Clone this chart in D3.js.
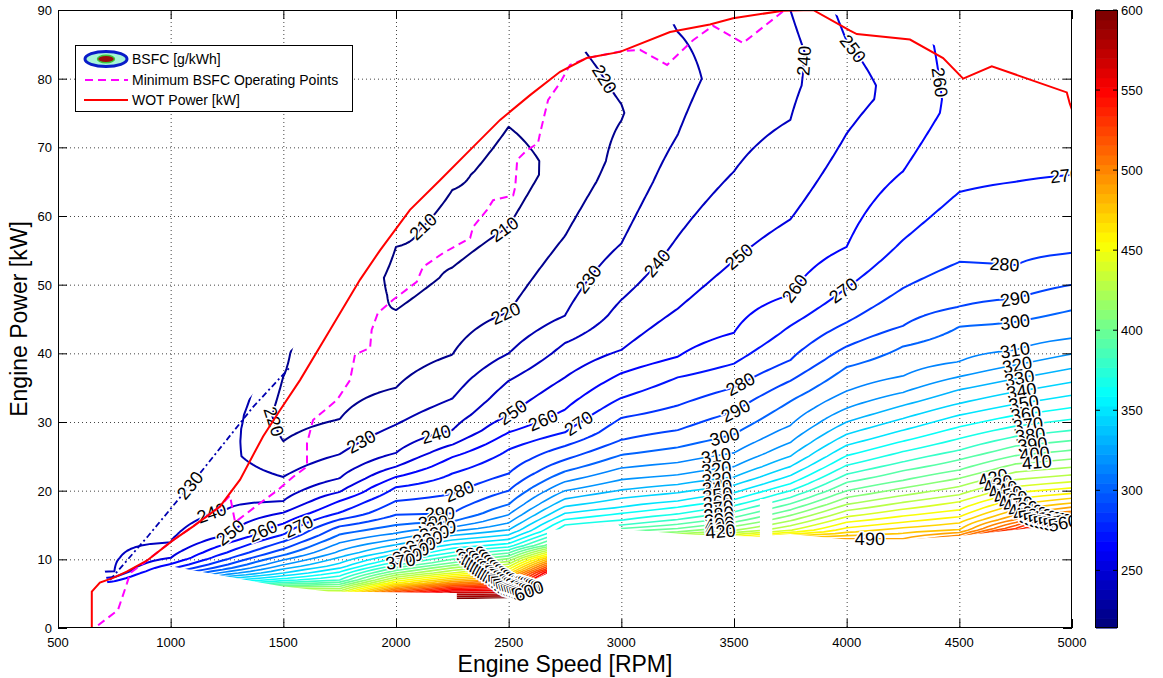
<!DOCTYPE html>
<html>
<head>
<meta charset="utf-8">
<script src="https://cdn.jsdelivr.net/npm/d3@7"></script>
<style>
body { margin: 0; background: #fff; }
svg { font-family: "Liberation Sans", Arial, sans-serif; }
</style>
</head>
<body>
<svg id="chart" width="1163" height="678"></svg>
<script>
// engine speed columns of the map [RPM]
var speeds = [500, 750, 1000, 1250, 1500, 1750, 2000, 2250, 2500, 2750, 3000, 3250, 3500, 3750, 4000, 4250, 4500, 4750, 5000];

// BSFC along each speed column, pairs of [power kW, bsfc g/kWh]
var bsfc500  = [[0,700],[3,520],[4,400],[5,320],[5.8,270],[6.5,250],[7.2,240],[10,238],[92,240]];
var bsfc750  = [[0,700],[3,450],[3.8,380],[4.3,340],[5,300],[5.6,280],[6.2,270],[6.8,260],[7.4,250],[8.2,240],[12,238],[92,240]];
var bsfc1000 = [[0,700],[3,480],[4.2,380],[4.6,360],[5.2,340],[5.8,320],[6.6,300],[7.2,290],[8,280],[8.6,270],[9.3,260],[10.2,250],[12.5,240],[16,236],[22,238],[92,240]];
var bsfc1250 = [[0,700],[4,520],[5.5,420],[6.1,380],[6.6,360],[7.2,340],[7.8,320],[8.6,300],[9.2,290],[10,280],[11,270],[12.3,260],[13.5,250],[17.3,240],[21,235],[25,232],[29,234],[35,240],[92,245]];
var bsfc1500 = [[0,650],[5.6,430],[6.2,400],[6.6,380],[7.2,360],[8,340],[9.2,320],[10.6,300],[11.5,290],[12.6,280],[13.6,270],[15.2,260],[16.8,250],[18.5,240],[22,230],[27.2,220],[31,216],[36.6,220],[40,221],[44,223],[50,228],[92,240]];
var bsfc1750 = [[0,700],[5.4,430],[7,380],[9,345],[11,322],[13,305],[14.5,293],[15.8,280],[16.8,270],[18.5,260],[19.8,250],[21.8,240],[25.3,230],[30.4,220],[38,214],[44,210.5],[46,211],[48.5,220],[55,232],[92,240]];
var bsfc2000 = [[0,750],[5.3,520],[6.5,460],[8,410],[9.5,372],[11,345],[12.5,325],[13.8,310],[15,300],[16.5,290],[18.5,280],[20.5,270],[22,260],[23.5,250],[25.5,240],[29.6,230],[35,220],[46.3,210],[51,206],[55.5,210],[59,214],[65,220],[92,230]];
var bsfc2250 = [[0,800],[4.3,600],[5.2,570],[6.5,500],[8,440],[9.5,400],[11,370],[12.5,345],[13.8,325],[14.7,310],[15.5,300],[16.7,290],[19.5,280],[22.5,270],[24.9,260],[26.7,250],[28.8,240],[33.4,230],[39.8,220],[52.5,210],[58,206],[63.8,210],[66.5,213],[75,220],[92,230]];
var bsfc2500 = [[0,800],[4.4,600],[5.5,560],[7,500],[8.5,450],[10.5,400],[12,365],[13.2,345],[14.3,330],[15.3,320],[16.5,310],[18,300],[20,290],[22.5,280],[26,270],[28.5,260],[31,250],[36,240],[40,230],[46,220],[58.5,210],[66,205],[73,210],[74.5,212],[80,218],[92,225]];
var bsfc2750 = [[0,800],[8,600],[12,420],[14,380],[15,370],[15.8,360],[16.7,350],[17.7,340],[18.8,330],[20,320],[21.3,310],[22.8,300],[24.5,290],[26.5,280],[28.5,270],[31.8,260],[36.5,250],[41.5,240],[45.5,230],[57.1,220],[68,213],[81,217],[92,222]];
var bsfc3000 = [[0,800],[10,500],[13,420],[15,380],[15.7,370],[16.7,360],[17.6,350],[18.9,340],[20.1,330],[21.6,320],[23.3,310],[25.2,300],[27.4,290],[30.6,280],[33.5,270],[37.1,260],[40.5,250],[47.8,240],[56,230],[65,224],[75,219.5],[84,223],[92,226]];
var bsfc3250 = [[0,800],[12,480],[14,410],[14.5,400],[15.1,390],[15.8,380],[16.6,370],[17.6,360],[18.5,350],[19.7,340],[20.9,330],[22.3,320],[24.1,310],[26.3,300],[28.8,290],[32.4,280],[36.5,270],[39.5,260],[46.5,250],[57,240],[71.8,230],[80,227],[86.8,230],[92,232]];
var bsfc3500 = [[0,800],[10,560],[14.2,420],[14.8,410],[15.4,400],[16.1,390],[16.9,380],[17.8,370],[18.7,360],[19.7,350],[20.8,340],[22,330],[23.5,320],[25.5,310],[28.2,300],[31.5,290],[35,280],[38.5,270],[43,260],[53.5,250],[66.5,240],[80,234],[92,233]];
var bsfc3750 = [[0,800],[10,600],[14.2,440],[14.9,430],[15.6,420],[16.4,410],[17.2,400],[18.1,390],[19,380],[20,370],[21,360],[22.2,350],[23.5,340],[25,330],[27,320],[29.5,310],[33,300],[36,290],[39,280],[44,270],[48.5,260],[59.5,250],[74,240],[84,237],[90,240],[92,241]];
var bsfc4000 = [[0,800],[8,650],[13,490],[13.9,470],[14.6,460],[15.4,450],[16.2,440],[17.1,430],[18,420],[19,410],[20,400],[21.2,390],[22.4,380],[23.7,370],[25.1,360],[26.6,350],[28.2,340],[30,330],[32,320],[34.5,310],[38,300],[41,290],[44.5,280],[49.5,270],[55.5,260],[72,250],[79,246],[85.5,250],[92,254]];
var bsfc4250 = [[0,800],[8,650],[13,490],[13.8,480],[14.6,470],[15.4,460],[16.3,450],[17.3,440],[18.3,430],[19.3,420],[20.4,410],[21.5,400],[22.9,390],[24.2,380],[25.7,370],[27.2,360],[28.8,350],[30.5,340],[32.4,330],[34.3,320],[36.7,310],[41,300],[44,290],[49.5,280],[56.5,270],[66.5,260],[77,253],[85.8,256],[92,258]];
var bsfc4500 = [[0,800],[8,650],[13.5,500],[14.3,480],[15.3,470],[16.2,460],[17.2,450],[18.4,440],[19.4,430],[20.6,420],[21.8,410],[23,400],[24.5,390],[25.9,380],[27.6,370],[29.3,360],[31,350],[32.7,340],[34.7,330],[36.6,320],[38.8,310],[43.9,300],[46.8,290],[53.3,280],[63.5,270],[75,263],[92,264]];
var bsfc4750 = [[0,800],[10,700],[14.5,530],[15.8,500],[16.5,490],[17.2,480],[18,470],[18.8,460],[19.7,450],[20.6,440],[21.6,430],[22.7,420],[23.9,410],[25.1,400],[26.5,390],[27.9,380],[29.4,370],[31,360],[32.6,350],[34.4,340],[36.3,330],[38.3,320],[40.5,310],[44.6,300],[48,290],[52.8,280],[65,270],[75,264],[92,265]];
var bsfc5000 = [[0,800],[12,700],[15.3,570],[16,540],[17,500],[17.6,490],[18.2,480],[18.9,470],[19.6,460],[20.4,450],[21.3,440],[22.3,430],[23.4,420],[24.6,410],[25.9,400],[27.3,390],[28.8,380],[30.4,370],[32.1,360],[33.9,350],[35.8,340],[37.8,330],[39.9,320],[42.2,310],[46.3,300],[50,290],[54.6,280],[66,270],[75,266],[92,266]];

var profiles = [bsfc500, bsfc750, bsfc1000, bsfc1250, bsfc1500, bsfc1750, bsfc2000, bsfc2250, bsfc2500,
    bsfc2750, bsfc3000, bsfc3250, bsfc3500, bsfc3750, bsfc4000, bsfc4250, bsfc4500, bsfc4750, bsfc5000];

// 230 line of the extrapolated points above WOT at low speed [rpm, kW]
var edge230 = [[731,7],[900,13.4],[1117,22],[1366,32.2],[1530,38]];

// outline of the measured area [rpm, kW]
var mapBoundary = [[700,9.5],[1000,19.5],[1250,29.5],[1500,39.5],[1600,42.5],[1707,44.4],[1840,51.7],[1929,56],
    [2062,61.9],[2195,66.2],[2328,70.6],[2462,75],[2595,78.6],[2728,82],[2846,84],[2994,84.9],[3216,87.8],
    [3393,88.9],[3496,89.8],[3718,91],[3851,91],[4015,88.3],[4045,87.8],[4281,86.8],[4428,84.2],[4517,81.2],
    [4644,83],[4977,79.2],[5000,78],[5000,15.2],[4750,14.3],[4500,13.4],[4250,12.9],[4000,12.9],[3750,13.7],
    [3670,13.5],[3670,18.8],[3615,18.8],[3615,13.3],[3300,13.6],[3000,14.4],[2985,15.2],[2670,14.2],[2670,7.9],
    [2610,7],[2493,4.3],[2270,4.2],[2270,5.1],[1700,5.3],[1485,6.1],[1000,9],[800,6.9],[720,6.4]];

// wide open throttle power curve [rpm, kW]
var wotPower = [[650,0],[650,5.3],[686,6.6],[745,7.3],[805,8.2],[894,9.8],[1011,12.8],[1100,14.8],[1219,17.7],
    [1308,21.6],[1410,27.9],[1485,31.7],[1574,36.1],[1707,43.4],[1840,50.7],[1929,55],[2062,60.9],[2195,65.2],
    [2328,69.6],[2462,74],[2595,77.6],[2728,81],[2846,83],[2994,83.9],[3216,86.8],[3393,87.9],[3496,88.8],
    [3718,89.9],[3851,90],[4015,87],[4045,86.5],[4281,85.7],[4428,83],[4517,80],[4644,81.8],[4977,78],
    [4990,76.4],[5000,75.5],[5000,62]];

// minimum BSFC operating line [rpm, kW]
var minBsfcLine = [[678,0.4],[766,2.6],[806,6.5],[820,8],[894,9.8],[1011,12.8],[1100,14.8],[1219,17.7],[1263,19.3],
    [1286,15.4],[1397,18.2],[1472,20],[1543,22],[1605,23.5],[1605,26.9],[1632,30.3],[1738,33.2],[1796,36.1],
    [1818,39.8],[1885,40.8],[1892,43.4],[1920,45.9],[1987,47.8],[2092,50.4],[2120,52.6],[2209,54.6],[2329,56.8],
    [2342,58.4],[2404,60.9],[2431,62.3],[2520,63],[2529,64.2],[2538,68.2],[2582,69.6],[2630,70.6],[2639,72],
    [2661,75],[2675,76.9],[2728,79.4],[2772,82],[2850,83],[3000,84],[3083,84.2],[3203,82],[3318,85.6],
    [3407,87.7],[3540,85.2],[3718,89.8]];

// inline contour labels: [level, rpm, kW] near where they sit
var labelSpots = [[210,2106,59],[210,2493,57.5],[220,2490,45.5],[220,2919,79.8],[220,1405,29.5],
    [230,1862,26.2],[230,2846,51],[240,2182,27.8],[240,3163,53],[240,1174,17.5],[240,3837,82.5],
    [250,2520,31.3],[250,3527,53.9],[250,1276,13.5],[250,4000,83.7],[260,2661,29.6],[260,3780,49.2],
    [260,1410,14],[260,4392,79.4],[270,2826,29.1],[270,3984,49.2],[270,1574,14.3],[270,4969,66],
    [280,2284,19.7],[280,3527,35.6],[280,4700,52.8],[290,2195,16.7],[290,3483,33],[290,4747,48],
    [300,2164,14.7],[300,3451,29],[300,4747,44.6],[490,4103,13.8]];

// piled-up labels: [first level, last level, rpm of first, rpm of last, kW low, kW high]
var labelRuns = [[310,410,4747,4844,20,44],[420,560,4650,4960,14,26],[310,420,3420,3440,13,30],
    [310,370,2200,2020,9,17],[380,600,2330,2590,3.5,15]];

var xTicks = [500, 1000, 1500, 2000, 2500, 3000, 3500, 4000, 4500, 5000];
var yTicks = [0, 10, 20, 30, 40, 50, 60, 70, 80, 90];
var barTicks = [250, 300, 350, 400, 450, 500, 550, 600];
var levels = d3.range(210, 601, 10);

var svg = d3.select("#chart");
var x = d3.scaleLinear().domain([500, 5000]).range([58, 1072]);
var y = d3.scaleLinear().domain([0, 90]).range([628, 10]);
var cmin = 214, cmax = 600;

// matlab jet, 64 steps
function jet(v) {
    var t = Math.max(0, Math.min(1, (v - cmin) / (cmax - cmin)));
    t = Math.round(t * 63) / 63;
    function c(a) { return Math.round(255 * Math.max(0, Math.min(1, 1.5 - Math.abs(4 * t - a)))); }
    return "rgb(" + c(3) + "," + c(2) + "," + c(1) + ")";
}

function profileAt(p, kw) {
    if (kw <= p[0][0]) return p[0][1];
    for (var k = 1; k < p.length; k++) {
        if (kw <= p[k][0]) {
            var a = p[k - 1], b = p[k];
            return a[1] + (b[1] - a[1]) * (kw - a[0]) / (b[0] - a[0]);
        }
    }
    return p[p.length - 1][1];
}

function bsfcAt(rpm, kw) {
    var f = (rpm - speeds[0]) / (speeds[1] - speeds[0]);
    var i = Math.max(0, Math.min(speeds.length - 2, Math.floor(f)));
    var t = f - i;
    return profileAt(profiles[i], kw) * (1 - t) + profileAt(profiles[i + 1], kw) * t;
}

// grid for d3.contours, one column per speed
var nx = speeds.length, dk = 0.25, ny = Math.round(92 / dk) + 1;
var grid = new Array(nx * ny);
for (var j = 0; j < ny; j++) {
    for (var i = 0; i < nx; i++) grid[j * nx + i] = profileAt(profiles[i], j * dk);
}
var contours = d3.contours().size([nx, ny]).thresholds(levels)(grid);
var proj = d3.geoTransform({
    point: function(px, py) {
        this.stream.point(x(speeds[0] + (px - 0.5) * (speeds[1] - speeds[0])), y((py - 0.5) * dk));
    }
});
var path = d3.geoPath(proj);
var line = d3.line().x(function(d) { return x(d[0]); }).y(function(d) { return y(d[1]); });

var defs = svg.append("defs");
defs.append("clipPath").attr("id", "plotClip")
    .append("rect").attr("x", 58).attr("y", 10).attr("width", 1014).attr("height", 618);
defs.append("clipPath").attr("id", "mapClip")
    .append("path").attr("d", line(mapBoundary) + "Z");

// grid lines
var gridG = svg.append("g").attr("stroke", "#444").attr("stroke-width", 1).attr("stroke-dasharray", "1,3");
xTicks.slice(1, -1).forEach(function(t) {
    gridG.append("line").attr("x1", x(t) + 0.5).attr("x2", x(t) + 0.5).attr("y1", 10).attr("y2", 628);
});
yTicks.slice(1, -1).forEach(function(t) {
    gridG.append("line").attr("x1", 58).attr("x2", 1072).attr("y1", y(t) + 0.5).attr("y2", y(t) + 0.5);
});

var plot = svg.append("g").attr("clip-path", "url(#plotClip)");
var mapG = plot.append("g").attr("clip-path", "url(#mapClip)");

mapG.selectAll("path.iso")
    .data(contours)
    .enter().append("path")
    .attr("class", "iso")
    .attr("d", path)
    .attr("fill", "none")
    .attr("stroke", function(d) { return jet(d.value); })
    .attr("stroke-width", function(d) { return d.value <= 300 ? 2 : 1.6; })
    .attr("stroke-linejoin", "round");

plot.append("path").datum(edge230)
    .attr("d", line).attr("fill", "none")
    .attr("stroke", jet(230)).attr("stroke-width", 1.8).attr("stroke-dasharray", "6,3,2,3");

// label placement helpers
function findCrossing(level, rpm, kw, radius) {
    var px = x(rpm), py = y(kw), best = null;
    for (var a = 0; a < 180; a += 6) {
        var dx = Math.cos(a * Math.PI / 180), dy = Math.sin(a * Math.PI / 180), prev = null;
        for (var s = -radius; s <= radius; s += 1) {
            var v = bsfcAt(x.invert(px + dx * s), y.invert(py + dy * s)) - level;
            if (prev && (prev.v <= 0) !== (v <= 0)) {
                var sc = prev.s + (s - prev.s) * prev.v / (prev.v - v);
                if (!best || Math.abs(sc) < best.d) best = { d: Math.abs(sc), x: px + dx * sc, y: py + dy * sc };
            }
            prev = { s: s, v: v };
        }
    }
    return best;
}

function scanDown(level, rpm, lo, hi) {
    var prev = null;
    for (var kw = hi; kw >= lo; kw -= 0.02) {
        var v = bsfcAt(rpm, kw) - level;
        if (prev !== null && (prev <= 0) !== (v <= 0)) return { x: x(rpm), y: y(kw) };
        prev = v;
    }
    return null;
}

function normAngle(ang) {
    if (ang > 90) ang -= 180;
    if (ang <= -90) ang += 180;
    return ang;
}

function tangentAngle(px, py) {
    var h = 3;
    var gx = bsfcAt(x.invert(px + h), y.invert(py)) - bsfcAt(x.invert(px - h), y.invert(py));
    var gy = bsfcAt(x.invert(px), y.invert(py + h)) - bsfcAt(x.invert(px), y.invert(py - h));
    return normAngle(Math.atan2(gx, -gy) * 180 / Math.PI);
}

var labels = [];
labelSpots.forEach(function(s) {
    var p = findCrossing(s[0], s[1], s[2], 45);
    if (p) labels.push({ level: s[0], x: p.x, y: p.y, a: tangentAngle(p.x, p.y) });
});
labelRuns.forEach(function(r) {
    var n = (r[1] - r[0]) / 10;
    for (var k = 0; k <= n; k++) {
        var lv = r[0] + k * 10;
        var rpm = r[2] + (r[3] - r[2]) * (n ? k / n : 0);
        var p = scanDown(lv, rpm, r[4], r[5]);
        if (p) labels.push({ level: lv, x: p.x, y: p.y, a: tangentAngle(p.x, p.y) });
    }
});
// label on the extrapolated 230 line, on its segment around 1086 rpm
(function() {
    var a = edge230[1], b = edge230[2], t = (1086 - a[0]) / (b[0] - a[0]);
    var kw = a[1] + (b[1] - a[1]) * t;
    var ang = Math.atan2(y(b[1]) - y(a[1]), x(b[0]) - x(a[0])) * 180 / Math.PI;
    labels.push({ level: 230, x: x(1086), y: y(kw), a: normAngle(ang) });
})();

plot.append("g").selectAll("text")
    .data(labels)
    .enter().append("text")
    .attr("transform", function(d) { return "translate(" + d.x + "," + d.y + ") rotate(" + d.a + ")"; })
    .attr("text-anchor", "middle")
    .attr("dy", "0.35em")
    .attr("font-size", 18)
    .attr("fill", "#000")
    .attr("stroke", "#fff")
    .attr("stroke-width", 3)
    .attr("paint-order", "stroke")
    .text(function(d) { return d.level; });

plot.append("path").datum(minBsfcLine)
    .attr("d", line).attr("fill", "none")
    .attr("stroke", "#ff00ff").attr("stroke-width", 2).attr("stroke-dasharray", "8,5");

plot.append("path").datum(wotPower)
    .attr("d", line).attr("fill", "none")
    .attr("stroke", "#ff0000").attr("stroke-width", 2);

// axes frame and ticks (matlab style, ticks inside on all sides)
var axG = svg.append("g").attr("stroke", "#000").attr("stroke-width", 1);
axG.append("rect").attr("x", 58.5).attr("y", 10.5).attr("width", 1013).attr("height", 617).attr("fill", "none");
xTicks.forEach(function(t) {
    axG.append("line").attr("x1", x(t) + 0.5).attr("x2", x(t) + 0.5).attr("y1", 628).attr("y2", 619);
    axG.append("line").attr("x1", x(t) + 0.5).attr("x2", x(t) + 0.5).attr("y1", 10).attr("y2", 19);
});
yTicks.forEach(function(t) {
    axG.append("line").attr("x1", 58).attr("x2", 67).attr("y1", y(t) + 0.5).attr("y2", y(t) + 0.5);
    axG.append("line").attr("x1", 1072).attr("x2", 1063).attr("y1", y(t) + 0.5).attr("y2", y(t) + 0.5);
});

svg.append("g").selectAll("text").data(xTicks).enter().append("text")
    .attr("x", function(d) { return x(d); }).attr("y", 647)
    .attr("text-anchor", "middle").attr("font-size", 13).text(function(d) { return d; });
svg.append("g").selectAll("text").data(yTicks).enter().append("text")
    .attr("x", 52).attr("y", function(d) { return y(d) + 5; })
    .attr("text-anchor", "end").attr("font-size", 13).text(function(d) { return d; });

svg.append("text").attr("x", 565).attr("y", 672).attr("text-anchor", "middle")
    .attr("font-size", 23).text("Engine Speed [RPM]");
svg.append("text").attr("transform", "translate(27,319) rotate(-90)").attr("text-anchor", "middle")
    .attr("font-size", 23).text("Engine Power [kW]");

// colorbar
var cbar = d3.scaleLinear().domain([cmin, cmax]).range([628, 10]);
var steps = d3.range(64);
var cb = svg.append("g");
cb.selectAll("rect").data(steps).enter().append("rect")
    .attr("x", 1096).attr("width", 21)
    .attr("y", function(k) { return 628 - (k + 1) * 618 / 64; })
    .attr("height", 618 / 64 + 0.6)
    .attr("fill", function(k) { return jet(cmin + (k + 0.5) * (cmax - cmin) / 64); });
cb.append("rect").attr("x", 1095.5).attr("y", 10.5).attr("width", 22).attr("height", 617)
    .attr("fill", "none").attr("stroke", "#000");
barTicks.forEach(function(t) {
    cb.append("line").attr("x1", 1096).attr("x2", 1100).attr("y1", cbar(t)).attr("y2", cbar(t)).attr("stroke", "#000");
    cb.append("line").attr("x1", 1113).attr("x2", 1117).attr("y1", cbar(t)).attr("y2", cbar(t)).attr("stroke", "#000");
    cb.append("text").attr("x", 1121).attr("y", cbar(t) + 5).attr("font-size", 13).text(t);
});

// legend
var lg = svg.append("g");
lg.append("rect").attr("x", 75.5).attr("y", 45.5).attr("width", 277).attr("height", 66)
    .attr("fill", "#fff").attr("stroke", "#000");
lg.append("ellipse").attr("cx", 106).attr("cy", 59).attr("rx", 21).attr("ry", 7.5)
    .attr("fill", "#a8f5d8").attr("stroke", "#0a1cc8").attr("stroke-width", 3);
lg.append("ellipse").attr("cx", 106).attr("cy", 59).attr("rx", 8.5).attr("ry", 3.8)
    .attr("fill", "#9a0c0c").attr("stroke", "#3cc83c").attr("stroke-width", 1.5);
lg.append("line").attr("x1", 85).attr("x2", 128).attr("y1", 80).attr("y2", 80)
    .attr("stroke", "#ff00ff").attr("stroke-width", 2).attr("stroke-dasharray", "8,5");
lg.append("line").attr("x1", 84).attr("x2", 128).attr("y1", 100).attr("y2", 100)
    .attr("stroke", "#ff0000").attr("stroke-width", 2);
[["BSFC [g/kWh]", 64], ["Minimum BSFC Operating Points", 85], ["WOT Power [kW]", 105]].forEach(function(e) {
    lg.append("text").attr("x", 132).attr("y", e[1]).attr("font-size", 14).text(e[0]);
});
</script>
</body>
</html>
